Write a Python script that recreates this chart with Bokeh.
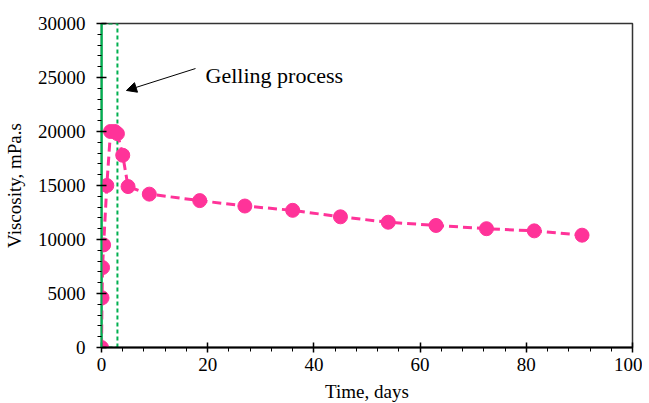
from bokeh.plotting import figure
from bokeh.models import Range1d, Arrow, NormalHead, Label, FixedTicker, ColumnDataSource
from bokeh.embed import file_html
from bokeh.resources import INLINE

time_days = [0, 0.1, 0.2, 0.4, 1, 1.7, 2.5, 3, 4, 5, 9, 18.5, 27, 36, 45, 54, 63, 72.5, 81.5, 90.5]
viscosity = [0, 4600, 7400, 9500, 15000, 20000, 20000, 19800, 17800, 14900, 14200, 13600, 13100, 12700, 12100, 11600, 11300, 11000, 10800, 10400]

gel_x = [0, 3]
gel_y = [0, 30000]
x_ticks = [0, 20, 40, 60, 80, 100]
y_ticks = [0, 5000, 10000, 15000, 20000, 25000, 30000]

FONT = "Liberation Serif"
green = "#00b050"

p = figure(frame_width=531, frame_height=324, output_backend="svg", toolbar_location=None,
           x_range=Range1d(0, 100), y_range=Range1d(0, 30000),
           min_border_left=101, min_border_right=10, min_border_top=23, min_border_bottom=50)
p.grid.visible = False
p.outline_line_color = "#333333"
p.outline_line_width = 1.5
p.background_fill_color = "white"
p.border_fill_color = "white"

for ax in (p.xaxis[0], p.yaxis[0]):
    ax.axis_line_color = "black"
    ax.axis_line_width = 2
    ax.major_tick_line_color = "black"
    ax.major_tick_line_width = 1.5
    ax.minor_tick_line_color = "black"
    ax.minor_tick_line_width = 1
    ax.major_tick_in = 5
    ax.major_tick_out = 5
    ax.minor_tick_in = 0
    ax.minor_tick_out = 4
    ax.major_label_text_font = FONT
    ax.major_label_text_font_size = "19px"
    ax.major_label_text_color = "black"
    ax.axis_label_text_font = FONT
    ax.axis_label_text_font_size = "19px"
    ax.axis_label_text_font_style = "normal"
    ax.axis_label_text_color = "black"

p.yaxis.axis_line_color = green
p.xaxis.ticker = FixedTicker(ticks=x_ticks, minor_ticks=list(range(0, 101, 4)))
p.yaxis.ticker = FixedTicker(ticks=y_ticks, minor_ticks=list(range(0, 30001, 1000)))
p.xaxis.axis_label = "Time, days"
p.yaxis.axis_label = "Viscosity, mPa.s"
p.xaxis.axis_label_standoff = 7
p.yaxis.axis_label_standoff = 10
p.xaxis.major_label_standoff = 5
p.yaxis.major_label_standoff = 11

# gelling window
p.line([gel_x[0], gel_x[0]], gel_y, line_color=green, line_width=2)
p.line([gel_x[1], gel_x[1]], gel_y, line_color=green, line_width=2, line_dash="4 3")
p.line(gel_x, [gel_y[1], gel_y[1]], line_color=green, line_width=2, line_dash="4 3")
p.line(gel_x, [gel_y[0], gel_y[0]], line_color=green, line_width=2, line_dash="4 3")

src = ColumnDataSource(dict(x=time_days, y=viscosity))
p.line("x", "y", source=src, line_color="#ff3399", line_width=3, line_dash="9 5")
p.scatter("x", "y", source=src, size=14, fill_color="#ff3399", line_color="#ff3399")

p.add_layout(Arrow(end=NormalHead(size=10, fill_color="black", line_color="black"),
                   x_start=17.7, y_start=25830, x_end=4.7, y_end=23800,
                   line_color="black", line_width=1))
p.add_layout(Label(x=19.6, y=25180, text="Gelling process", text_font=FONT,
                   text_font_size="22px", text_color="black", text_baseline="middle"))

open("out.html", "w").write(file_html(p, INLINE))
